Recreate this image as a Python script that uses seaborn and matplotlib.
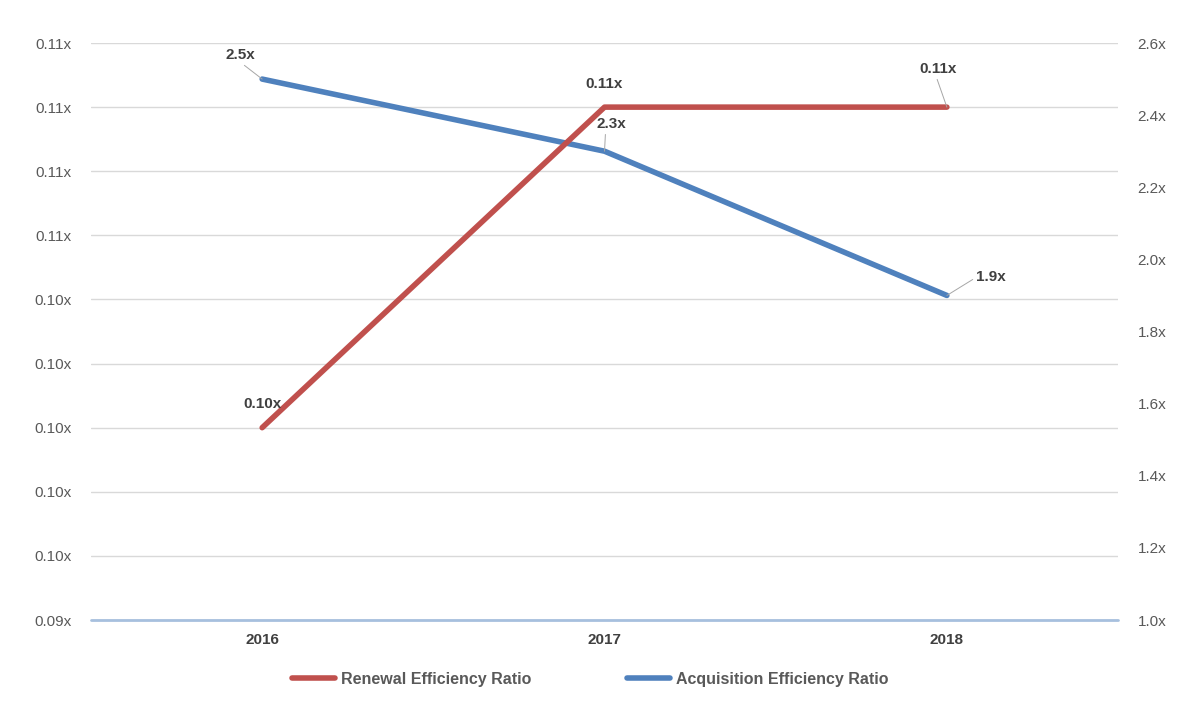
import matplotlib
matplotlib.use("Agg")
import matplotlib.pyplot as plt
import seaborn as sns
import pandas as pd
from matplotlib.lines import Line2D
from matplotlib.ticker import FuncFormatter

years = ["2016", "2017", "2018"]
renewal = [0.100, 0.110, 0.110]
acquisition = [2.5, 2.3, 1.9]
renewal_labels = ["0.10x", "0.11x", "0.11x"]
acquisition_labels = ["2.5x", "2.3x", "1.9x"]

RED = "#C0504D"
BLUE = "#4F81BD"
TXT = "#595959"

sns.set_theme(style="white")
plt.rcParams['font.family'] = ['Liberation Sans', 'DejaVu Sans']

df = pd.DataFrame({"x": range(len(years)), "year": years,
                   "renewal": renewal, "acquisition": acquisition})

fig = plt.figure(figsize=(11.8, 7.04), dpi=100)
ax = fig.add_axes([0.0771, 0.1193, 0.8704, 0.8196])
ax2 = ax.twinx()

sns.lineplot(data=df, x="x", y="renewal", ax=ax, color=RED, linewidth=4,
             solid_capstyle="round", zorder=3)
sns.lineplot(data=df, x="x", y="acquisition", ax=ax2, color=BLUE, linewidth=4,
             solid_capstyle="round", zorder=3)

# red series drawn above blue
ax.set_zorder(ax2.get_zorder() + 1)
ax.patch.set_visible(False)

L0, L1 = 0.094, 0.112
R0, R1 = 1.0, 2.6
left_ticks = [L0 + 0.002 * i for i in range(10)]
ax.set_xlim(-0.5, 2.5)
ax.set_ylim(L0, L1)
ax.set_yticks(left_ticks)
ax.yaxis.set_major_formatter(FuncFormatter(lambda v, p: f"{v:.2f}x"))
ax2.set_ylim(R0, R1)
ax2.set_yticks([R0 + 0.2 * i for i in range(9)])
ax2.yaxis.set_major_formatter(FuncFormatter(lambda v, p: f"{v:.1f}x"))
# gridlines of the left scale, drawn on the lower (right-scale) axes
ax2.yaxis.remove_overlapping_locs = False
ax2.set_yticks([R0 + (v - L0) / (L1 - L0) * (R1 - R0) for v in left_ticks], minor=True)
ax2.grid(axis="y", which="minor", color="#D9D9D9", linewidth=1)
ax2.grid(axis="y", which="major", visible=False)
ax2.set_axisbelow(True)

ax.set_xticks(range(len(years)))
ax.set_xticklabels(years, fontweight="bold", color="#404040", fontsize=11)
ax.set_xlabel("")
ax.set_ylabel("")
ax2.set_ylabel("")

for a in (ax, ax2):
    for s in a.spines.values():
        s.set_visible(False)
    a.tick_params(axis="both", which="both", length=0, labelsize=11, labelcolor=TXT)
ax.tick_params(axis="x", pad=9, labelcolor="#404040")
ax.tick_params(axis="y", pad=14)
ax2.tick_params(axis="y", pad=14)
ax.axhline(L0, color="#A7C0DE", linewidth=2, zorder=2, clip_on=False)

lead = dict(arrowstyle="-", color="#A6A6A6", linewidth=0.7, shrinkA=0, shrinkB=0)
kw = dict(textcoords="offset pixels", fontsize=11, fontweight="bold",
          color="#404040", ha="center", va="center", zorder=5)

# Renewal labels
ax.annotate(renewal_labels[0], (0, renewal[0]), xytext=(0, 24), **kw)
ax.annotate(renewal_labels[1], (1, renewal[1]), xytext=(0, 23), **kw)
ax.annotate(renewal_labels[2], (2, renewal[2]), xytext=(-9, 38), arrowprops=dict(lead, relpos=(0.45, 0.0)), **kw)
# Acquisition labels
ax2.annotate(acquisition_labels[0], (0, acquisition[0]), xytext=(-22, 24), arrowprops=dict(lead, relpos=(0.5, 0.0)), **kw)
ax2.annotate(acquisition_labels[1], (1, acquisition[1]), xytext=(7, 27), arrowprops=dict(lead, relpos=(0.3, 0.0)), **kw)
ax2.annotate(acquisition_labels[2], (2, acquisition[2]), xytext=(44, 18), arrowprops=dict(lead, relpos=(0.0, 0.5)), **kw)

handles = [Line2D([0], [0], color=RED, linewidth=4, solid_capstyle="round"),
           Line2D([0], [0], color=BLUE, linewidth=4, solid_capstyle="round")]
fig.legend(handles, ["Renewal Efficiency Ratio", "Acquisition Efficiency Ratio"],
           loc="center", bbox_to_anchor=(0.5, 0.035), ncol=2, frameon=False,
           handlelength=2.7, handletextpad=0.35, columnspacing=6,
           prop={"size": 11.5, "weight": "bold"}, labelcolor=TXT)

fig.savefig("out.png", dpi=100)
